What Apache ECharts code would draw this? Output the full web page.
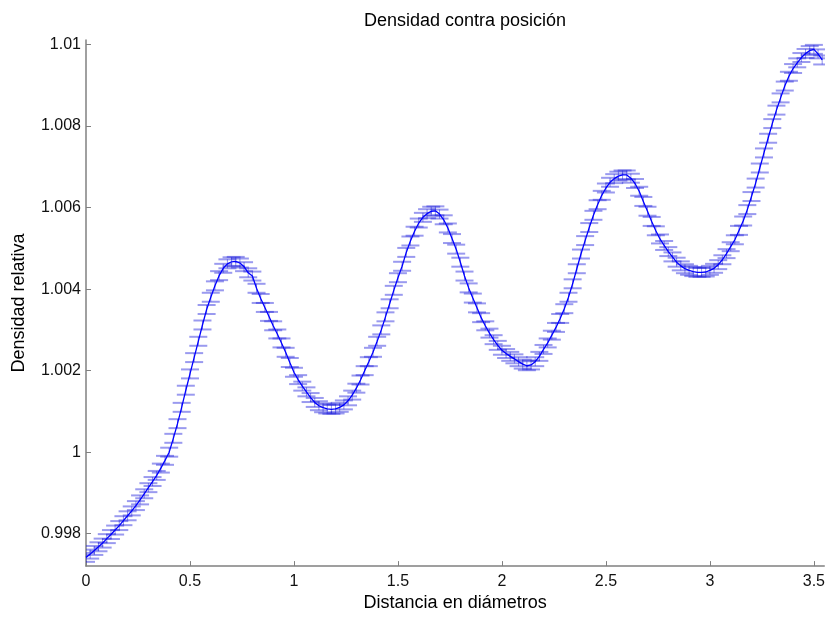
<!DOCTYPE html>
<html>
<head>
<meta charset="utf-8">
<script src="https://cdn.jsdelivr.net/npm/echarts@6/dist/echarts.min.js"></script>
<style>
  html, body { margin: 0; padding: 0; background: #fff; }
  #main { width: 828px; height: 617px; }
</style>
</head>
<body>
<div id="main"></div>
<script>
// distancia en diametros (paso 0.02)
var distancia = [];
for (var i = 0; i < 178; i++) distancia.push(+(i * 0.02).toFixed(2));

// densidad relativa
var densidad = [
  0.99742, 0.99750, 0.99759, 0.99768, 0.99777, 0.99788, 0.99798, 0.99809, 0.99820, 0.99832,
  0.99844, 0.99856, 0.99869, 0.99883, 0.99898, 0.99913, 0.99928, 0.99943, 0.99961, 0.99980,
  1.00000, 1.00034, 1.00070, 1.00110, 1.00152, 1.00192, 1.00232, 1.00272, 1.00312, 1.00350,
  1.00380, 1.00408, 1.00433, 1.00451, 1.00462, 1.00467, 1.00468, 1.00464, 1.00455, 1.00440,
  1.00432, 1.00402, 1.00377, 1.00355, 1.00333, 1.00310, 1.00290, 1.00268, 1.00245, 1.00220,
  1.00196, 1.00178, 1.00162, 1.00148, 1.00134, 1.00122, 1.00114, 1.00109, 1.00106, 1.00105,
  1.00106, 1.00110, 1.00116, 1.00126, 1.00140, 1.00157, 1.00177, 1.00200, 1.00222, 1.00245,
  1.00272, 1.00300, 1.00332, 1.00364, 1.00397, 1.00428, 1.00456, 1.00490, 1.00518, 1.00542,
  1.00562, 1.00576, 1.00585, 1.00591, 1.00592, 1.00584, 1.00570, 1.00550, 1.00524, 1.00498,
  1.00466, 1.00432, 1.00403, 1.00378, 1.00354, 1.00330, 1.00310, 1.00292, 1.00276, 1.00262,
  1.00250, 1.00242, 1.00235, 1.00229, 1.00222, 1.00216, 1.00212, 1.00214, 1.00222, 1.00235,
  1.00252, 1.00268, 1.00287, 1.00306, 1.00328, 1.00352, 1.00380, 1.00413, 1.00450, 1.00486,
  1.00519, 1.00551, 1.00581, 1.00607, 1.00630, 1.00648, 1.00662, 1.00671, 1.00677, 1.00680,
  1.00680, 1.00672, 1.00659, 1.00640, 1.00615, 1.00591, 1.00566, 1.00543, 1.00523, 1.00507,
  1.00492, 1.00479, 1.00466, 1.00457, 1.00450, 1.00446, 1.00443, 1.00441, 1.00441, 1.00442,
  1.00446, 1.00451, 1.00460, 1.00472, 1.00487, 1.00504, 1.00521, 1.00544, 1.00567, 1.00595,
  1.00627, 1.00660, 1.00697, 1.00734, 1.00770, 1.00806, 1.00839, 1.00869, 1.00898, 1.00922,
  1.00941, 1.00955, 1.00968, 1.00978, 1.00985, 1.00988, 1.00977, 1.00962
];

// semiancho de la barra de error
var errorBarra = 0.00011;

var xTicks = [0, 0.5, 1, 1.5, 2, 2.5, 3, 3.5];
var yTicks = [0.998, 1, 1.002, 1.004, 1.006, 1.008, 1.01];

var fuente = '"Liberation Sans", Arial, sans-serif';
var grisEje = '#808080';

var lineData = [], errData = [];
for (var k = 0; k < densidad.length; k++) {
  lineData.push([distancia[k], densidad[k]]);
  errData.push([distancia[k], densidad[k] - errorBarra, densidad[k] + errorBarra]);
}

var myChart = echarts.init(document.getElementById('main'));

myChart.setOption({
  animation: false,
  backgroundColor: '#fff',
  title: {
    text: 'Densidad contra posición',
    left: 460,
    top: 7,
    textAlign: 'center',
    textStyle: { fontFamily: fuente, fontSize: 18, fontWeight: 'normal', color: '#000' }
  },
  grid: { left: 86, right: 0, top: 40, bottom: 46, containLabel: false },
  xAxis: {
    type: 'value',
    min: 0,
    max: 3.55,
    name: 'Distancia en diámetros',
    nameLocation: 'middle',
    nameGap: 25,
    nameTextStyle: { fontFamily: fuente, fontSize: 18, color: '#000' },
    axisLine: { show: true, lineStyle: { color: grisEje, width: 1.5 } },
    axisTick: { show: true, inside: true, length: 5, customValues: xTicks, lineStyle: { color: grisEje } },
    axisLabel: {
      customValues: xTicks,
      margin: 7,
      fontFamily: fuente, fontSize: 16, color: '#111',
      formatter: function (v) { return String(+v.toFixed(2)); }
    },
    splitLine: { show: false }
  },
  yAxis: {
    type: 'value',
    min: 0.997206,
    max: 1.01011,
    name: 'Densidad relativa',
    nameLocation: 'middle',
    nameGap: 58,
    nameTextStyle: { fontFamily: fuente, fontSize: 18, color: '#000' },
    axisLine: { show: true, lineStyle: { color: grisEje, width: 1.5 } },
    axisTick: { show: true, inside: true, length: 5, customValues: yTicks, lineStyle: { color: grisEje } },
    axisLabel: {
      customValues: yTicks,
      margin: 5,
      fontFamily: fuente, fontSize: 16, color: '#111',
      formatter: function (v) { return String(+v.toFixed(3)); }
    },
    splitLine: { show: false }
  },
  series: [
    {
      // barras de error con topes horizontales
      type: 'custom',
      clip: true,
      data: errData,
      renderItem: function (params, api) {
        var x = api.value(0);
        var lo = api.coord([x, api.value(1)]);
        var hi = api.coord([x, api.value(2)]);
        var hw = 9;
        var st = { stroke: 'rgba(30,30,220,0.45)', lineWidth: 2, fill: null };
        var sv = { stroke: 'rgba(30,30,220,0.5)', lineWidth: 1, fill: null };
        return {
          type: 'group',
          children: [
            { type: 'line', shape: { x1: lo[0], y1: lo[1], x2: hi[0], y2: hi[1] }, style: sv },
            { type: 'line', shape: { x1: lo[0] - hw, y1: lo[1], x2: lo[0] + hw, y2: lo[1] }, style: st },
            { type: 'line', shape: { x1: hi[0] - hw, y1: hi[1], x2: hi[0] + hw, y2: hi[1] }, style: st }
          ]
        };
      },
      z: 2
    },
    {
      type: 'line',
      data: lineData,
      showSymbol: false,
      smooth: false,
      lineStyle: { color: '#0000ff', width: 1.3 },
      z: 3
    }
  ]
});
</script>
</body>
</html>
